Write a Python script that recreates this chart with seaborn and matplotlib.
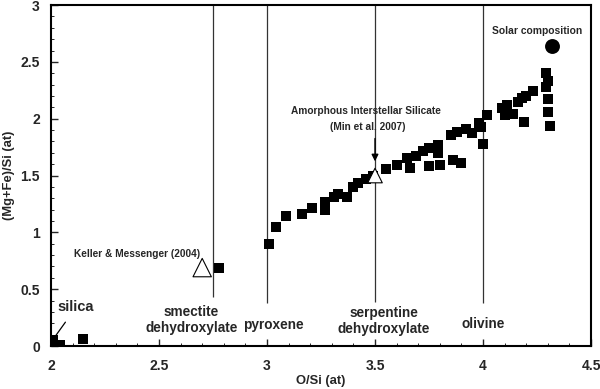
import matplotlib
matplotlib.use("Agg")
import matplotlib.pyplot as plt
from matplotlib.ticker import MultipleLocator
import seaborn as sns
import pandas as pd

# Data: measured compositions (squares)
o_si = [2.01, 2.04, 2.15, 2.78, 3.01, 3.04, 3.09, 3.16, 3.21, 3.27, 3.27, 3.31, 3.33,
        3.37, 3.40, 3.42, 3.46, 3.49, 3.55, 3.60, 3.65, 3.66, 3.69, 3.72, 3.75, 3.75,
        3.79, 3.79, 3.80, 3.85, 3.86, 3.88, 3.90, 3.92, 3.95, 3.98, 3.99, 4.00, 4.02,
        4.09, 4.11, 4.10, 4.14, 4.16, 4.19, 4.18, 4.20, 4.23, 4.29, 4.30, 4.29, 4.30,
        4.30, 4.31]
mgfe_si = [0.05, 0.01, 0.06, 0.69, 0.90, 1.05, 1.14, 1.16, 1.21, 1.27, 1.20, 1.31, 1.34,
           1.31, 1.40, 1.43, 1.47, 1.50, 1.56, 1.59, 1.65, 1.57, 1.67, 1.72, 1.74, 1.58,
           1.77, 1.70, 1.59, 1.86, 1.64, 1.88, 1.61, 1.91, 1.87, 1.96, 1.93, 1.78, 2.03,
           2.09, 2.12, 2.03, 2.04, 2.15, 1.97, 2.18, 2.20, 2.24, 2.40, 2.33, 2.28, 2.17,
           2.06, 1.94]

# Reference compositions
tri_x = [2.70, 3.50]          # Keller & Messenger (2004); Min et al. 2007
tri_y = [0.69, 1.50]
solar_x = [4.32]
solar_y = [2.64]

# Mineral reference lines
mineral_x = [2.75, 3.0, 3.5, 4.0]
mineral_ymin = [0.43, 0.38, 0.39, 0.38]
mineral_names = ["smectite\ndehydroxylate", "pyroxene", "serpentine\ndehydroxylate", "olivine"]
mineral_lx = [2.65, 3.03, 3.54, 4.0]
mineral_ly = [0.23, 0.185, 0.22, 0.19]

x_ticks = [2, 2.5, 3, 3.5, 4, 4.5]
x_ticklabels = ["2", "2.5", "3", "3.5", "4", "4.5"]
y_ticks = [0, 0.5, 1, 1.5, 2, 2.5, 3]
y_ticklabels = ["0", "0.5", "1", "1.5", "2", "2.5", "3"]

sns.set_style("ticks")
plt.rcParams["font.family"] = ["Liberation Sans", "DejaVu Sans"]
plt.rcParams["font.weight"] = "bold"

fig = plt.figure(figsize=(6.0, 3.89), dpi=100)
ax = fig.add_axes([0.085, 0.1105, 0.9, 0.8765])

df = pd.DataFrame({"O/Si": o_si, "MgFeSi": mgfe_si})

# mineral lines
ax.vlines(mineral_x, mineral_ymin, [3] * len(mineral_x), colors="#333333", linewidth=0.9, zorder=1)
for lx, ly, name in zip(mineral_lx, mineral_ly, mineral_names):
    ax.text(lx, ly, name, ha="center", va="center", fontsize=9.8, fontweight="bold",
            linespacing=1.15)

sns.scatterplot(data=df, x="O/Si", y="MgFeSi", marker="s", s=62, color="black",
                edgecolor="black", linewidth=0, ax=ax, zorder=3)
sns.scatterplot(x=tri_x, y=tri_y, marker="^", s=[175, 110], facecolor="white",
                edgecolor="black", linewidth=0.8, ax=ax, zorder=4, legend=False)
sns.scatterplot(x=solar_x, y=solar_y, marker="o", s=115, color="black", linewidth=0,
                ax=ax, zorder=4)

# annotations
ax.annotate("silica", xy=(2.01, 0.06), xytext=(2.116, 0.34), ha="center", va="center",
            fontsize=10.5, fontweight="bold",
            arrowprops=dict(arrowstyle="-", color="black", lw=0.9, shrinkA=4, shrinkB=0))
ax.text(2.40, 0.81, "Keller & Messenger (2004)", ha="center", va="center",
        fontsize=7.3, fontweight="bold")
ax.text(3.46, 2.07, "Amorphous Interstellar Silicate", ha="center", va="center",
        fontsize=7.3, fontweight="bold")
ax.text(3.465, 1.93, "(Min et al. 2007)", ha="center", va="center",
        fontsize=7.3, fontweight="bold")
ax.annotate("", xy=(3.5, 1.60), xytext=(3.5, 1.85),
            arrowprops=dict(arrowstyle="-|>", color="black", lw=1.0, mutation_scale=10))
ax.text(4.25, 2.77, "Solar composition", ha="center", va="center",
        fontsize=7.4, fontweight="bold")

ax.set_xlim(2, 4.5)
ax.set_ylim(0, 3)
ax.set_xticks(x_ticks)
ax.set_xticklabels(x_ticklabels)
ax.set_yticks(y_ticks)
ax.set_yticklabels(y_ticklabels)
ax.xaxis.set_minor_locator(MultipleLocator(0.1))
ax.yaxis.set_minor_locator(MultipleLocator(0.1))
ax.tick_params(which="major", direction="in", length=5, width=1.0, labelsize=10)
ax.tick_params(axis="x", which="major", pad=9)
ax.tick_params(axis="y", which="major", pad=8)
ax.tick_params(which="minor", direction="in", length=2.5, width=0.7)
for lbl in ax.get_xticklabels() + ax.get_yticklabels():
    lbl.set_fontweight("bold")
ax.set_xlabel("O/Si (at)", fontsize=9.4, fontweight="bold", labelpad=2)
ax.set_ylabel("(Mg+Fe)/Si (at)", fontsize=9.4, fontweight="bold", labelpad=4)
for sp in ax.spines.values():
    sp.set_visible(True)
    sp.set_linewidth(1.5)
    sp.set_color("black")

fig.savefig("out.png", dpi=100)
